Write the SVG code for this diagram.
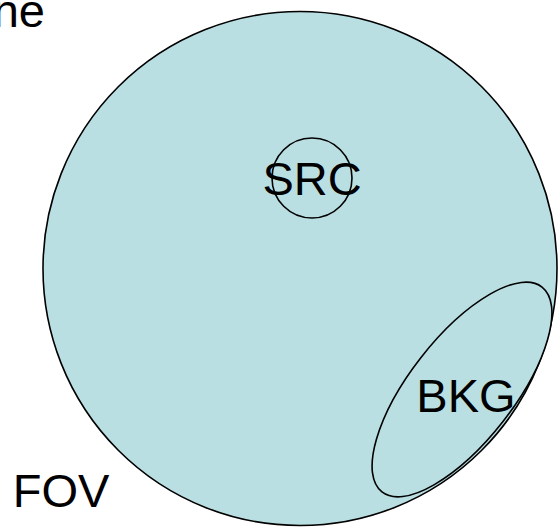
<svg xmlns="http://www.w3.org/2000/svg" width="560" height="528" viewBox="0 0 560 528">
  <style>
    .region { fill: #b9dfe3; stroke: #000; stroke-width: 1.6; }
    .label { font-family: "Liberation Sans", Arial, sans-serif; font-size: 47px; fill: #000; }
  </style>
  <rect width="560" height="528" fill="#fff"/>
  <!-- heading, running off the left edge of the page -->
  <g id="title">
    <text class="label" x="45" y="27" text-anchor="end">ne</text>
  </g>
  <g id="fov">
    <circle class="region" cx="300" cy="268.5" r="257"/>
    <text class="label" x="61" y="507" text-anchor="middle">FOV</text>
  </g>
  <g id="src">
    <circle class="region" cx="312" cy="178" r="40"/>
    <text class="label" x="312" y="195" text-anchor="middle">SRC</text>
  </g>
  <g id="bkg">
    <ellipse class="region" cx="462" cy="389.5" rx="130" ry="52" transform="rotate(-52 462 389.5)"/>
    <text class="label" x="466" y="412" text-anchor="middle">BKG</text>
  </g>
  <g id="connectors"/>
</svg>
